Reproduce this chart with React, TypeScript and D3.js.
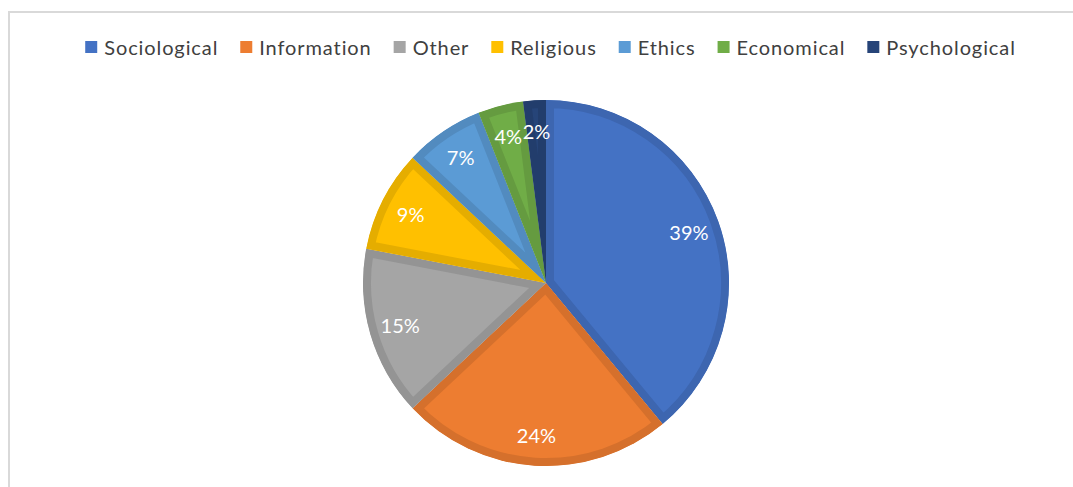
import React, { useEffect, useRef } from "react";
import * as d3 from "d3";

const categories = ["Sociological", "Information", "Other", "Religious", "Ethics", "Economical", "Psychological"];
const values = [39, 24, 15, 9, 7, 4, 2];
const labels = ["39%", "24%", "15%", "9%", "7%", "4%", "2%"];
const colors = ["#4472C4", "#ED7D31", "#A5A5A5", "#FFC000", "#5B9BD5", "#70AD47", "#264478"];

const W = 1073;
const H = 487;

export default function App() {
  const ref = useRef<SVGSVGElement | null>(null);

  useEffect(() => {
    const svg = d3.select(ref.current);
    svg.selectAll("*").remove();

    // frame
    svg.append("path")
      .attr("d", `M9,${H} L9,12 L${W},12`)
      .attr("fill", "none")
      .attr("stroke", "#d9d9d9")
      .attr("stroke-width", 2);

    const cx = 546, cy = 283, r = 183, border = 8;
    const pie = d3.pie<number>().sort(null).value((d) => d);
    const arcs = pie(values);
    const arc = d3.arc<d3.PieArcDatum<number>>().innerRadius(0).outerRadius(r);
    const labelArc = d3.arc<d3.PieArcDatum<number>>().innerRadius(r * 0.83).outerRadius(r * 0.83);

    const defs = svg.append("defs");
    const g = svg.append("g").attr("transform", `translate(${cx},${cy})`);

    arcs.forEach((a, i) => {
      const id = `clip-${i}`;
      defs.append("clipPath").attr("id", id).append("path").attr("d", arc(a) as string);
      const base = d3.color(colors[i])!;
      const dark = base.darker(0.3).formatHex();
      g.append("path")
        .attr("d", arc(a) as string)
        .attr("fill", colors[i])
        .attr("stroke", dark)
        .attr("stroke-width", border * 2)
        .attr("stroke-linejoin", "miter")
        .attr("clip-path", `url(#${id})`);
    });

    arcs.forEach((a, i) => {
      const [lx, ly] = labelArc.centroid(a);
      g.append("text")
        .attr("x", lx)
        .attr("y", ly)
        .attr("text-anchor", "middle")
        .attr("dominant-baseline", "central")
        .attr("fill", "#ffffff")
        .attr("font-family", "Lato, 'Open Sans', sans-serif")
        .attr("font-size", 20)
        .text(labels[i]);
    });

    // legend
    const lg = svg.append("g");
    const font = "Lato, 'Open Sans', sans-serif";
    const items = categories.map((c, i) => {
      const t = lg.append("text")
        .attr("font-family", font)
        .attr("font-size", 20)
        .attr("letter-spacing", 0.9)
        .attr("fill", "#404040")
        .attr("dominant-baseline", "central")
        .attr("y", 47)
        .text(c);
      const w = (t.node() as SVGTextElement).getComputedTextLength();
      return { t, w, i };
    });
    const sq = 12, gapSq = 7, gapItem = 22;
    const total = items.reduce((s, it) => s + sq + gapSq + it.w, 0) + gapItem * (items.length - 1);
    let x = 550.5 - total / 2;
    items.forEach((it) => {
      lg.append("rect")
        .attr("x", x)
        .attr("y", 41)
        .attr("width", sq)
        .attr("height", sq)
        .attr("fill", colors[it.i]);
      it.t.attr("x", x + sq + gapSq);
      x += sq + gapSq + it.w + gapItem;
    });
  }, []);

  return (
    <svg ref={ref} width={W} height={H} style={{ position: "absolute", left: 0, top: 0, background: "#fff" }} />
  );
}
